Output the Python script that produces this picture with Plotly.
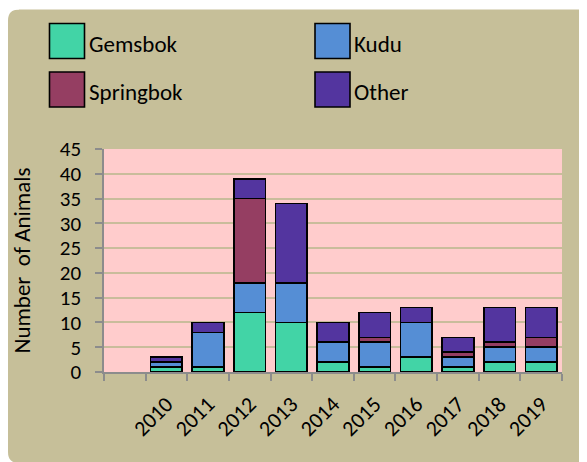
import plotly.graph_objects as go

years = [" ", "2010", "2011", "2012", "2013", "2014", "2015", "2016", "2017", "2018", "2019"]
gemsbok = [None, 1, 1, 12, 10, 2, 1, 3, 1, 2, 2]
kudu = [None, 1, 7, 6, 8, 4, 5, 7, 2, 3, 3]
springbok = [None, 0, 0, 17, 0, 0, 1, 0, 1, 1, 2]
other = [None, 1, 2, 4, 16, 4, 5, 3, 3, 7, 6]

series_names = ["Gemsbok", "Kudu", "Springbok", "Other"]
series_colors = ["#42d4a6", "#558ed5", "#953e62", "#53359f"]
series_values = [gemsbok, kudu, springbok, other]

FONT = "Carlito, Calibri, Lato, sans-serif"
FS = 23
TAN = "#c6bf99"
PINK = "#ffcccc"

fig = go.Figure()
for name, col, vals in zip(series_names, series_colors, series_values):
    fig.add_trace(go.Bar(
        x=years, y=vals, name=name,
        marker=dict(color=col, line=dict(color="black", width=1.6)),
        showlegend=False,
    ))

# figure pixel geometry (page is offset by the 8px body margin)
W_PX, H_PX = 587, 462
L, R, T, B = 96, 554, 141, 364
PW, PH = R - L, B - T


def px2x(px):
    return (px - L) / PW


def px2y(py):
    return (B - py) / PH


shapes = []
# rounded corners of the tan panel (white patches)
r = 11
tl = (f"M {px2x(0)},{px2y(0)} L {px2x(r)},{px2y(0)} L {px2x(r)},{px2y(1.5)} "
      f"Q {px2x(0)},{px2y(1.5)} {px2x(0)},{px2y(1.5 + r)} Z")
shapes.append(dict(type="path", path=tl, xref="paper", yref="paper",
                   fillcolor="white", line=dict(width=0), layer="above"))
shapes.append(dict(type="rect", xref="paper", yref="paper",
                   x0=px2x(0), x1=px2x(W_PX), y0=px2y(0), y1=px2y(1.5),
                   fillcolor="white", line=dict(width=0), layer="above"))
yb = 455
bl = (f"M {px2x(0)},{px2y(yb)} L {px2x(r)},{px2y(yb)} "
      f"Q {px2x(0)},{px2y(yb)} {px2x(0)},{px2y(yb - r)} Z")
shapes.append(dict(type="path", path=bl, xref="paper", yref="paper",
                   fillcolor="white", line=dict(width=0), layer="above"))
shapes.append(dict(type="rect", xref="paper", yref="paper",
                   x0=px2x(0), x1=px2x(W_PX), y0=px2y(yb), y1=px2y(H_PX),
                   fillcolor="white", line=dict(width=0), layer="above"))

# manual legend (2 columns)
annotations = []
legend_pos = [(41.5, 15.5), (307, 15.5), (41.5, 64), (307, 64)]
for (lx, ly), idx in zip(legend_pos, range(4)):
    shapes.append(dict(type="rect", xref="paper", yref="paper",
                       x0=px2x(lx), x1=px2x(lx + 35), y0=px2y(ly), y1=px2y(ly + 35),
                       fillcolor=series_colors[idx], line=dict(color="black", width=1.6)))
    annotations.append(dict(xref="paper", yref="paper", x=px2x(lx + 37), y=px2y(ly + 20),
                            text=series_names[idx], showarrow=False, xanchor="left",
                            yanchor="middle", font=dict(family=FONT, size=FS, color="black")))

fig.update_layout(
    width=W_PX, height=H_PX,
    margin=dict(l=L, r=W_PX - R, t=T, b=H_PX - B, pad=0),
    paper_bgcolor=TAN,
    plot_bgcolor=PINK,
    barmode="stack",
    bargap=0.24,
    font=dict(family=FONT, size=FS, color="black"),
    shapes=shapes,
    annotations=annotations,
    xaxis=dict(
        type="category", range=[-0.5, 10.5],
        tickangle=-45, tickson="boundaries", ticks="outside", ticklen=7,
        tickcolor="#8c8c8c", tickwidth=1.5, ticklabelstandoff=9,
        showline=True, linecolor="#8c8c8c", linewidth=1.5,
        showgrid=False, tickfont=dict(family=FONT, size=22, color="black"),
    ),
    yaxis=dict(
        range=[0, 45], dtick=5, ticks="outside", ticklen=7,
        tickcolor="#8c8c8c", tickwidth=1.5, ticklabelstandoff=10,
        showline=True, linecolor="#8c8c8c", linewidth=1.5,
        showgrid=True, gridcolor="#c9bc9b", gridwidth=1.5,
        zeroline=False,
        tickfont=dict(family=FONT, size=21, color="black"),
        title=dict(text="Number  of Animals", standoff=23,
                   font=dict(family=FONT, size=FS, color="black")),
    ),
)

fig.write_html("out.html")
